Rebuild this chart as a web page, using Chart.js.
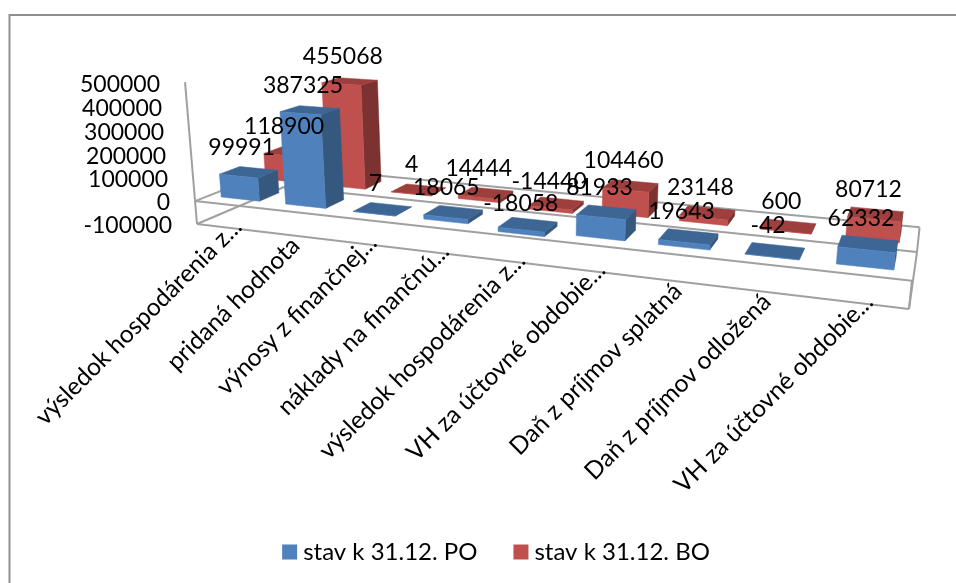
<!DOCTYPE html>
<html>
<head>
<meta charset="utf-8">
<title>stav k 31.12.</title>
<script src="https://cdn.jsdelivr.net/npm/chart.js@4"></script>
<style>
  html, body { margin: 0; padding: 0; background: #fff; }
  canvas { display: block; }
</style>
</head>
<body>
<canvas id="chart" width="956" height="583"></canvas>
<script>
const categories = [
  'výsledok hospodárenia z...',
  'pridaná hodnota',
  'výnosy z finančnej...',
  'náklady na finančnú...',
  'výsledok hospodárenia z...',
  'VH za účtovné obdobie...',
  'Daň z príjmov splatná',
  'Daň z príjmov odložená',
  'VH za účtovné obdobie...'
];
const valuesPO = [99991, 387325, 7, 18065, -18058, 81933, 19643, -42, 62332];
const valuesBO = [118900, 455068, 4, 14444, -14440, 104460, 23148, 600, 80712];

const FONT = 'Lato, "Noto Sans", sans-serif';
const FONT_SIZE = 23;
const LABEL_SIZE = 24.5;
const LEGEND_SIZE = 24;
const LINE = '#a0a0a0';
const FACES = [
  { front: '#4f81bd', top: '#3d6695', side: '#35587f' },
  { front: '#c0504d', top: '#9c3f3d', side: '#7c3230' }
];

// floor of the 3D box on the page (lowest axis value), and where its verticals meet
const floor = { p00: [197, 224], p10: [909, 309], p01: [284, 187], p11: [917, 252] };
const vanish = [521, 4067];
const heightWeight = -0.0356;
const depthGap = 0.28;

function floorMatrix(q) {
  const dx1 = q.p10[0] - q.p11[0], dx2 = q.p01[0] - q.p11[0];
  const dy1 = q.p10[1] - q.p11[1], dy2 = q.p01[1] - q.p11[1];
  const sx = q.p00[0] - q.p10[0] + q.p11[0] - q.p01[0];
  const sy = q.p00[1] - q.p10[1] + q.p11[1] - q.p01[1];
  const det = dx1 * dy2 - dx2 * dy1;
  const a = (sx * dy2 - dx2 * sy) / det;
  const b = (dx1 * sy - sx * dy1) / det;
  return {
    a, b,
    ax: q.p10[0] - q.p00[0] + a * q.p10[0], bx: q.p01[0] - q.p00[0] + b * q.p01[0],
    ay: q.p10[1] - q.p00[1] + a * q.p10[1], by: q.p01[1] - q.p00[1] + b * q.p01[1]
  };
}
const fm = floorMatrix(floor);

// u across categories, d front to back, h up the value axis, all 0..1
function project(u, d, h) {
  const w = fm.a * u + fm.b * d + 1 + h * heightWeight;
  const x = fm.ax * u + fm.bx * d + floor.p00[0] + h * heightWeight * vanish[0];
  const y = fm.ay * u + fm.by * d + floor.p00[1] + h * heightWeight * vanish[1];
  return [x / w, y / w];
}

function poly(ctx, pts, color) {
  ctx.beginPath();
  pts.forEach((p, i) => (i ? ctx.lineTo(p[0], p[1]) : ctx.moveTo(p[0], p[1])));
  ctx.closePath();
  ctx.fillStyle = color;
  ctx.fill();
  ctx.strokeStyle = color;
  ctx.lineWidth = 0.5;
  ctx.stroke();
}

function seg(ctx, a, b) {
  ctx.beginPath();
  ctx.moveTo(a[0], a[1]);
  ctx.lineTo(b[0], b[1]);
  ctx.stroke();
}

const box3d = {
  id: 'box3d',
  beforeDatasetsDraw(chart) {
    const ctx = chart.ctx;
    const area = chart.chartArea;
    const yScale = chart.scales.y;
    const toU = px => (px - area.left) / area.width;
    const toH = py => (area.bottom - py) / area.height;
    const h0 = toH(yScale.getPixelForValue(0));

    ctx.save();

    // outer frame
    ctx.strokeStyle = '#8f8f8f';
    ctx.lineWidth = 2;
    ctx.strokeRect(9.5, 15, 1100, 1100);

    // box edges
    ctx.strokeStyle = LINE;
    ctx.lineWidth = 2;
    seg(ctx, project(0, 0, 0), project(0, 0, 1));
    seg(ctx, project(0, 0, 0), project(1, 0, 0));
    seg(ctx, project(0, 0, h0), project(1, 0, h0));
    seg(ctx, project(0, 1, 0), project(1, 1, 0));
    seg(ctx, project(0, 1, h0), project(1, 1, h0));
    seg(ctx, project(0, 0, 0), project(0, 1, 0));
    seg(ctx, project(0, 0, h0), project(0, 1, h0));
    seg(ctx, project(1, 0, 0), project(1, 1, 0));
    seg(ctx, project(1, 0, 0), project(1, 0, h0));
    seg(ctx, project(1, 1, 0), project(1, 1, h0));

    // bars, back series first
    const labels = [];
    for (let s = chart.data.datasets.length - 1; s >= 0; s--) {
      const meta = chart.getDatasetMeta(s);
      const n = chart.data.datasets.length;
      const d1 = (s + depthGap) / n;
      const d2 = (s + 1 - depthGap) / n;
      meta.data.forEach((bar, i) => {
        const u1 = toU(bar.x - bar.width / 2);
        const u2 = toU(bar.x + bar.width / 2);
        const hv = toH(bar.y);
        const hi = Math.max(hv, h0);
        const lo = Math.min(hv, h0);
        const c = FACES[s];
        poly(ctx, [project(u2, d1, lo), project(u2, d2, lo), project(u2, d2, hi), project(u2, d1, hi)], c.side);
        poly(ctx, [project(u1, d1, hi), project(u2, d1, hi), project(u2, d2, hi), project(u1, d2, hi)], c.top);
        poly(ctx, [project(u1, d1, lo), project(u2, d1, lo), project(u2, d1, hi), project(u1, d1, hi)], c.front);
        const p = project((u1 + u2) / 2, (d1 + d2) / 2, hv);
        labels.push({ text: String(chart.data.datasets[s].data[i]), x: p[0] - 7, y: p[1] - 25 });
      });
    }

    ctx.fillStyle = '#000';
    ctx.font = FONT_SIZE + 'px ' + FONT;

    // value labels above the bars
    ctx.textAlign = 'center';
    ctx.textBaseline = 'middle';
    labels.forEach(l => ctx.fillText(l.text, l.x, l.y));

    // value axis along the slanted corner
    ctx.textAlign = 'right';
    yScale.ticks.forEach(t => {
      const p = project(0, 0, toH(yScale.getPixelForValue(t.value)));
      ctx.fillText(String(t.value), p[0] - 25, p[1] + 2);
    });

    // category labels under the front edge, cut ones run a bit further up
    ctx.font = LABEL_SIZE + 'px ' + FONT;
    chart.data.labels.forEach((label, i) => {
      const p = project(toU(chart.scales.x.getPixelForValue(i)), 0, 0);
      const cut = label.endsWith('...');
      ctx.save();
      ctx.translate(p[0] + (cut ? 9 : 1), p[1] + (cut ? -5 : 6));
      ctx.rotate(-Math.PI / 4);
      ctx.fillText(label, 0, 0);
      ctx.restore();
    });

    ctx.restore();
    return false;
  }
};

new Chart(document.getElementById('chart'), {
  type: 'bar',
  data: {
    labels: categories,
    datasets: [
      { label: 'stav k 31.12. PO', data: valuesPO, backgroundColor: FACES[0].front },
      { label: 'stav k 31.12. BO', data: valuesBO, backgroundColor: FACES[1].front }
    ]
  },
  options: {
    responsive: false,
    animation: false,
    grouped: false,
    barPercentage: 0.6,
    categoryPercentage: 1,
    layout: { padding: { left: 42, bottom: 9 } },
    scales: {
      x: { display: false },
      y: { display: false, min: -100000, max: 500000, ticks: { stepSize: 100000 } }
    },
    plugins: {
      tooltip: { enabled: false },
      legend: {
        position: 'bottom',
        labels: {
          usePointStyle: true,
          pointStyle: 'rect',
          boxWidth: 3,
          boxHeight: 15,
          padding: 42,
          color: '#000',
          font: { family: FONT, size: LEGEND_SIZE }
        }
      }
    }
  },
  plugins: [box3d]
});
</script>
</body>
</html>
